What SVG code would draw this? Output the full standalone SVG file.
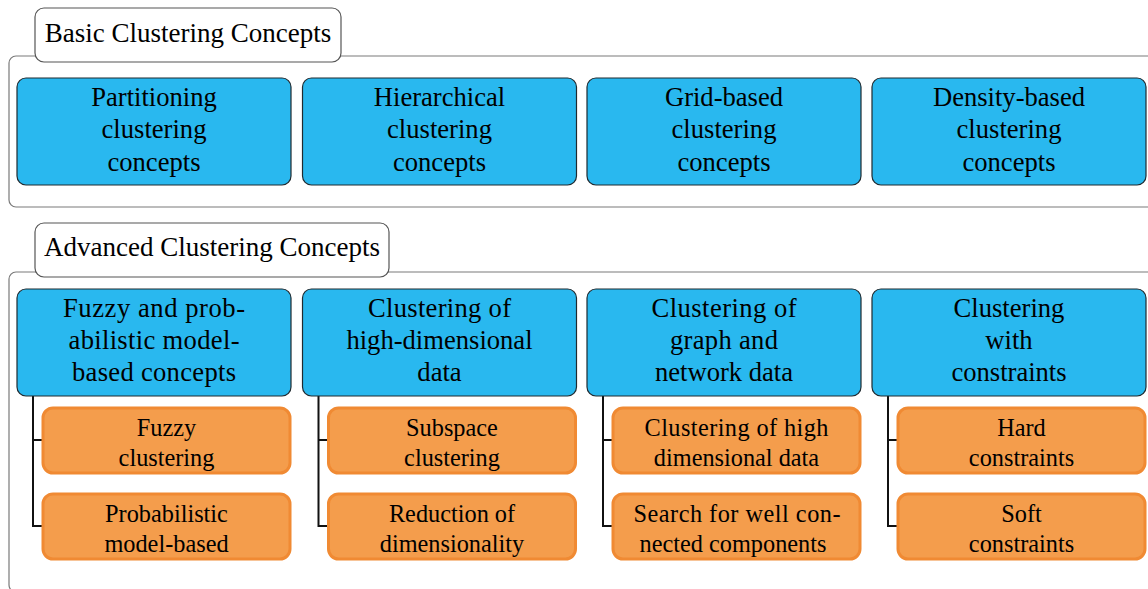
<svg xmlns="http://www.w3.org/2000/svg" width="1148" height="589" viewBox="0 0 1148 589">
<style>
.frame{fill:#ffffff;stroke:#7a7a7a;stroke-width:1.2}
.title{fill:#ffffff;stroke:#555555;stroke-width:1.2}
.blue{fill:#29b8ef;stroke:#1f2a30;stroke-width:1.2}
.orange{fill:#f49d4c;stroke:#f08a33;stroke-width:3}
.conn{fill:none;stroke:#111111;stroke-width:2}
text{font-family:"Liberation Serif","Times New Roman",serif;fill:#000000;text-anchor:middle}
.tt{font-size:27px}
.bt{font-size:26.6px}
.ot{font-size:24.3px}
</style>
<rect width="1148" height="589" fill="#ffffff"/>
<g id="basic-container">
<rect class="frame" x="9" y="56" width="1170" height="151" rx="7"/>
<rect class="title" x="35" y="8" width="306" height="54" rx="9"/>
<text class="tt" x="188" y="42">Basic Clustering Concepts</text>
</g>
<g id="advanced-container">
<rect class="frame" x="9" y="272" width="1170" height="320" rx="7"/>
<rect class="title" x="35" y="223" width="354" height="54" rx="9"/>
<text class="tt" x="212" y="256">Advanced Clustering Concepts</text>
</g>
<g id="connectors">
<path class="conn" d="M33 396V526H43M33 440H43"/>
<path class="conn" d="M318.5 396V526H328.5M318.5 440H328.5"/>
<path class="conn" d="M603 396V526H613M603 440H613"/>
<path class="conn" d="M888 396V526H898M888 440H898"/>
</g>
<g id="partitioning">
<rect class="blue" x="17" y="78" width="274" height="107" rx="9"/>
<text class="bt" x="154" y="105.5">Partitioning</text>
<text class="bt" x="154" y="138">clustering</text>
<text class="bt" x="154" y="170.5">concepts</text>
</g>
<g id="hierarchical">
<rect class="blue" x="302.5" y="78" width="274" height="107" rx="9"/>
<text class="bt" x="439.5" y="105.5">Hierarchical</text>
<text class="bt" x="439.5" y="138">clustering</text>
<text class="bt" x="439.5" y="170.5">concepts</text>
</g>
<g id="grid-based">
<rect class="blue" x="587" y="78" width="274" height="107" rx="9"/>
<text class="bt" x="724" y="105.5">Grid-based</text>
<text class="bt" x="724" y="138">clustering</text>
<text class="bt" x="724" y="170.5">concepts</text>
</g>
<g id="density-based">
<rect class="blue" x="872" y="78" width="274" height="107" rx="9"/>
<text class="bt" x="1009" y="105.5">Density-based</text>
<text class="bt" x="1009" y="138">clustering</text>
<text class="bt" x="1009" y="170.5">concepts</text>
</g>
<g id="fuzzy-probabilistic">
<rect class="blue" x="17" y="289" width="274" height="107" rx="9"/>
<text class="bt" x="154" y="317" textLength="182" lengthAdjust="spacing">Fuzzy and prob-</text>
<text class="bt" x="154" y="349" textLength="171" lengthAdjust="spacing">abilistic model-</text>
<text class="bt" x="154" y="381" textLength="164" lengthAdjust="spacing">based concepts</text>
</g>
<g id="high-dimensional">
<rect class="blue" x="302.5" y="289" width="274" height="107" rx="9"/>
<text class="bt" x="439.5" y="317" textLength="143" lengthAdjust="spacing">Clustering of</text>
<text class="bt" x="439.5" y="349">high-dimensional</text>
<text class="bt" x="439.5" y="381">data</text>
</g>
<g id="graph-network">
<rect class="blue" x="587" y="289" width="274" height="107" rx="9"/>
<text class="bt" x="724" y="317" textLength="145" lengthAdjust="spacing">Clustering of</text>
<text class="bt" x="724" y="349" textLength="108" lengthAdjust="spacing">graph and</text>
<text class="bt" x="724" y="381">network data</text>
</g>
<g id="constraints">
<rect class="blue" x="872" y="289" width="274" height="107" rx="9"/>
<text class="bt" x="1009" y="317">Clustering</text>
<text class="bt" x="1009" y="349">with</text>
<text class="bt" x="1009" y="381">constraints</text>
</g>
<g id="fuzzy-clustering">
<rect class="orange" x="43" y="408" width="247" height="65" rx="10"/>
<text class="ot" x="166.5" y="436">Fuzzy</text>
<text class="ot" x="166.5" y="466">clustering</text>
</g>
<g id="probabilistic-model-based">
<rect class="orange" x="43" y="494" width="247" height="65" rx="10"/>
<text class="ot" x="166.5" y="522">Probabilistic</text>
<text class="ot" x="166.5" y="552">model-based</text>
</g>
<g id="subspace-clustering">
<rect class="orange" x="328.5" y="408" width="247" height="65" rx="10"/>
<text class="ot" x="452" y="436">Subspace</text>
<text class="ot" x="452" y="466">clustering</text>
</g>
<g id="reduction-dimensionality">
<rect class="orange" x="328.5" y="494" width="247" height="65" rx="10"/>
<text class="ot" x="452" y="522">Reduction of</text>
<text class="ot" x="452" y="552">dimensionality</text>
</g>
<g id="clustering-high-dimensional-data">
<rect class="orange" x="613" y="408" width="247" height="65" rx="10"/>
<text class="ot" x="736.5" y="436" textLength="184" lengthAdjust="spacing">Clustering of high</text>
<text class="ot" x="736.5" y="466">dimensional data</text>
</g>
<g id="well-connected-components">
<rect class="orange" x="613" y="494" width="247" height="65" rx="10"/>
<text class="ot" x="737" y="522" textLength="207" lengthAdjust="spacing">Search for well con-</text>
<text class="ot" x="733" y="552">nected components</text>
</g>
<g id="hard-constraints">
<rect class="orange" x="898" y="408" width="247" height="65" rx="10"/>
<text class="ot" x="1021.5" y="436">Hard</text>
<text class="ot" x="1021.5" y="466">constraints</text>
</g>
<g id="soft-constraints">
<rect class="orange" x="898" y="494" width="247" height="65" rx="10"/>
<text class="ot" x="1021.5" y="522">Soft</text>
<text class="ot" x="1021.5" y="552">constraints</text>
</g>
</svg>
